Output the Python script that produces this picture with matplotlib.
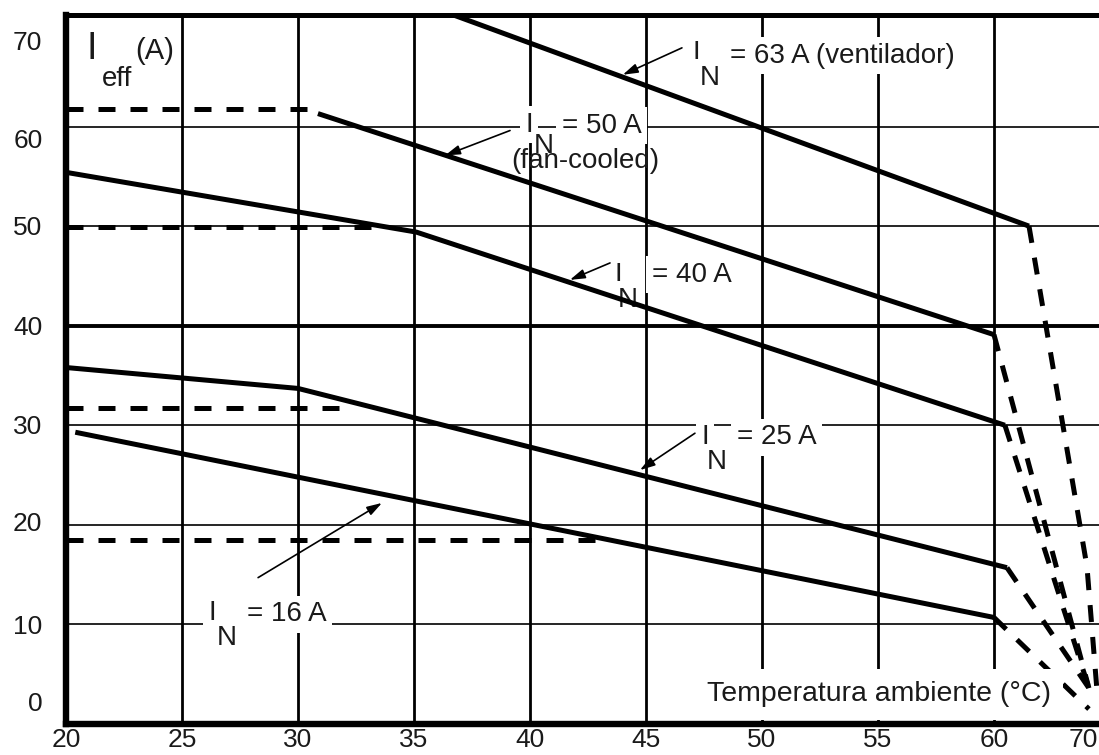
import numpy as np
import matplotlib
matplotlib.use("Agg")
import matplotlib.pyplot as plt

plt.rcParams['font.family'] = ['Liberation Sans', 'DejaVu Sans']

# ---------------- data ----------------
x_ticks = [20, 25, 30, 35, 40, 45, 50, 55, 60, 70]
x_tick_labels = ['20', '25', '30', '35', '40', '45', '50', '55', '60', '70']
y_tick_labels = ['0', '10', '20', '30', '40', '50', '60', '70']
y_tick_label_pos = [2.3, 10, 20.3, 30.1, 40, 50.1, 58.8, 68.6]
grid_x = [25, 30, 35, 40, 45, 50, 55, 60]
grid_y_thin = [10, 20, 30, 50, 60]
grid_y_thick = [40]

# I_N = 63 A (ventilador)
in63_t = [36.0, 63.93]
in63_i = [71.8, 50.0]
in63_fall_t = [63.93, 70.44, 71.56]
in63_fall_i = [50.0, 15.8, 3.4]

# I_N = 50 A (fan-cooled)
in50_t = [30.86, 60.0]
in50_i = [61.3, 39.1]
in50_ref_t = [20, 30.6]
in50_ref_i = [61.8, 61.8]
in50_fall_t = [60.0, 70.66]
in50_fall_i = [39.1, 3.6]

# I_N = 40 A
in40_t = [20, 35.1, 61.23]
in40_i = [55.4, 49.4, 30.0]
in40_ref_t = [20, 33.6]
in40_ref_i = [49.9, 49.9]
in40_fall_t = [61.23, 70.66]
in40_fall_i = [30.0, 3.6]

# I_N = 25 A
in25_t = [20, 30, 61.46]
in25_i = [35.8, 33.7, 15.7]
in25_ref_t = [20, 32.1]
in25_ref_i = [31.7, 31.7]
in25_fall_t = [61.46, 70.66]
in25_fall_i = [15.7, 3.6]

# I_N = 16 A
in16_t = [20.4, 60.0]
in16_i = [29.3, 10.7]
in16_ref_t = [20, 42.8]
in16_ref_i = [18.5, 18.5]
in16_fall_t = [60.0, 70.66]
in16_fall_i = [10.7, 1.5]

# ---------------- figure ----------------
W, H = 1099, 755
fig = plt.figure(figsize=(W / 100, H / 100), dpi=100)
ax = fig.add_axes([66 / W, 31 / H, 1033 / W, 709 / H])

K = 0.384
def fwd(x):
    x = np.asarray(x, dtype=float)
    return np.where(x <= 60, x, 60 + (x - 60) * K)
def inv(y):
    y = np.asarray(y, dtype=float)
    return np.where(y <= 60, y, 60 + (y - 60) / K)

ax.set_xscale('function', functions=(fwd, inv))
ax.set_xlim(20, 71.79)
ax.set_ylim(0, 71.2)

# grid
for gx in grid_x:
    ax.axvline(gx, color='black', lw=2.0, zorder=1)
for gy in grid_y_thin:
    ax.axhline(gy, color='black', lw=1.2, zorder=1)
for gy in grid_y_thick:
    ax.axhline(gy, color='black', lw=2.8, zorder=1)

# spines
for s in ['left', 'bottom']:
    ax.spines[s].set_linewidth(4.6)
ax.spines['top'].set_linewidth(3.6)
ax.spines['right'].set_visible(False)

ax.set_xticks(x_ticks)
ax.set_xticklabels(x_tick_labels)
ax.set_yticks(y_tick_label_pos)
ax.set_yticklabels(y_tick_labels)
ax.xaxis.set_minor_locator(matplotlib.ticker.NullLocator())
ax.tick_params(axis='both', length=0, labelsize=19, colors='#1a1a1a')
ax.tick_params(axis='x', pad=3)
ax.tick_params(axis='y', pad=17)

solid_kw = dict(color='black', lw=3.6, solid_capstyle='butt', zorder=5)
dash_kw = dict(color='black', lw=3.6, dashes=(3.4, 3.0), dash_capstyle='butt', zorder=5)

for t, i in [(in63_t, in63_i), (in50_t, in50_i), (in40_t, in40_i),
             (in25_t, in25_i), (in16_t, in16_i)]:
    ax.plot(t, i, **solid_kw)
for t, i in [(in50_ref_t, in50_ref_i), (in40_ref_t, in40_ref_i),
             (in25_ref_t, in25_ref_i), (in16_ref_t, in16_ref_i)]:
    ax.plot(t, i, **dash_kw)
for t, i in [(in63_fall_t, in63_fall_i), (in50_fall_t, in50_fall_i),
             (in40_fall_t, in40_fall_i), (in25_fall_t, in25_fall_i),
             (in16_fall_t, in16_fall_i)]:
    ax.plot(t, i, **dash_kw)

# ---------------- labels ----------------
FS = 20
box = dict(facecolor='white', edgecolor='none', pad=4)
tc = '#1a1a1a'

def label(xI, yI, xN, yN, xt, yt, text, tail, tip, n_box=True):
    ax.text(xI, yI, 'I', fontsize=FS, color=tc, ha='center', va='center',
            bbox=box, zorder=3)
    ax.text(xN, yN, 'N', fontsize=FS, color=tc, ha='center', va='center',
            bbox=box if n_box else None, zorder=3.2)
    ax.text(xt, yt, text, fontsize=FS, color=tc, ha='left', va='center',
            bbox=box, zorder=3)
    ax.annotate('', xy=tip, xytext=tail, zorder=6,
                arrowprops=dict(arrowstyle='-|>,head_length=0.9,head_width=0.28',
                                color='black', lw=1.2, shrinkA=0, shrinkB=0))

label(47.16, 67.4, 47.76, 64.9, 48.62, 67.1, '= 63 A (ventilador)',
      (46.55, 67.9), (44.0, 65.2))
ax.text(42.37, 56.5, '(fan-cooled)', fontsize=FS, color=tc, ha='center',
        va='center', zorder=3.1)
label(39.96, 60.2, 40.6, 58.0, 41.38, 60.1, '= 50 A',
      (39.14, 59.6), (36.34, 57.1), n_box=False)
label(43.79, 45.1, 44.22, 42.6, 45.26, 45.1, '= 40 A',
      (43.45, 46.3), (41.72, 44.6))
label(47.54, 28.8, 48.06, 26.3, 48.92, 28.8, '= 25 A',
      (47.11, 29.2), (44.74, 25.5))
label(26.29, 11.1, 26.94, 8.6, 27.8, 11.0, '= 16 A',
      (28.28, 14.7), (33.62, 22.2))

# axis titles
ax.text(21.12, 67.8, 'I', fontsize=27, color=tc, ha='center', va='center', zorder=3)
ax.text(22.2, 64.8, 'eff', fontsize=20, color=tc, ha='center', va='center', zorder=3)
ax.text(23.84, 67.6, '(A)', fontsize=21, color=tc, ha='center', va='center', zorder=3)

ax.text(55.04, 3.0, 'Temperatura ambiente (°C)', fontsize=20.5, color=tc,
        ha='center', va='center', zorder=7,
        bbox=dict(facecolor='white', edgecolor='none', pad=9))

fig.savefig('out.png', dpi=100)
